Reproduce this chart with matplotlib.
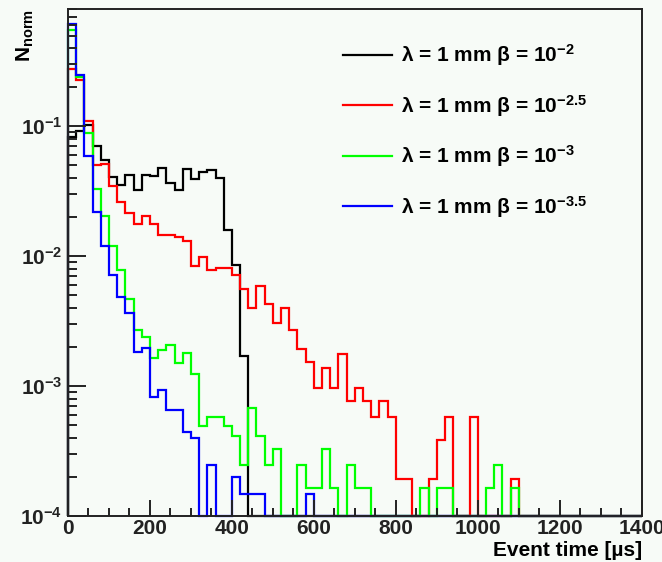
import numpy as np
import matplotlib.pyplot as plt
from matplotlib.ticker import MultipleLocator, LogLocator

plt.rcParams['font.family'] = ['Liberation Sans', 'DejaVu Sans']
plt.rcParams['font.weight'] = 'bold'
plt.rcParams['axes.labelweight'] = 'bold'
plt.rcParams['mathtext.fontset'] = 'custom'
plt.rcParams['mathtext.rm'] = 'Liberation Sans:bold'
plt.rcParams['mathtext.bf'] = 'Liberation Sans:bold'
plt.rcParams['mathtext.it'] = 'Liberation Sans:bold'

# 20 us bins from 0 to 1400 us; values listed up to 1100 us, empty beyond
bin_width = 20
n_bins = 70
edges = np.arange(n_bins + 1) * bin_width

beta_1e2 = [0.083, 0.092, 0.102, 0.0702, 0.0548, 0.0407, 0.0356, 0.0420, 0.0326, 0.0425,
            0.0412, 0.0481, 0.0366, 0.0326, 0.0473, 0.0396, 0.0445, 0.0464, 0.0403, 0.01585,
            0.00863, 0.00171]

beta_1e25 = [0.278, 0.226, 0.109, 0.0508, 0.0516, 0.0345, 0.0262, 0.0216, 0.0177, 0.0203,
             0.0177, 0.01463, 0.0145, 0.01407, 0.01304, 0.00838, 0.00988, 0.0078, 0.00809, 0.00809,
             0.00714, 0.00555, 0.0040, 0.00588, 0.00425, 0.00308, 0.0040, 0.00272, 0.00192, 0.00152,
             0.00096, 0.00137, 0.00096, 0.00176, 0.00077, 0.00096, 0.00077, 0.00058, 0.00077, 0.00058,
             0.000194, 0.000194, 0, 0, 0.000194, 0.000384, 0.00058, 0, 0, 0.00058,
             0, 0, 0, 0, 0.000194]

beta_1e3 = [0.555, 0.24, 0.0895, 0.0332, 0.0203, 0.0120, 0.0078, 0.00471, 0.0027, 0.00238,
            0.00165, 0.00191, 0.00207, 0.00150, 0.0018, 0.00124, 0.000494, 0.00058, 0.00058, 0.000494,
            0.00041, 0.000248, 0.000674, 0.00041, 0.000248, 0.000326, 0, 0, 0.000248, 0.000163,
            0.000163, 0.000326, 0.000163, 0, 0.000248, 0.000163, 0.000163, 0, 0, 0,
            0, 0, 0, 0.000163, 0, 0.000163, 0.000163, 0, 0, 0,
            0, 0.000163, 0.000248, 0, 0.000163]

beta_1e35 = [0.617, 0.249, 0.0596, 0.0220, 0.0120, 0.00723, 0.00488, 0.00367, 0.00184, 0.00195,
             0.000828, 0.000931, 0.000649, 0.000649, 0.000443, 0.000400, 0, 0.000248, 0, 0,
             0.000200, 0.000148, 0.000148, 0.000148, 0, 0, 0, 0, 0, 0.000148]

series = [beta_1e2, beta_1e25, beta_1e3, beta_1e35]
colors = ['black', '#ff0000', '#00ff00', '#0000ff']
labels = [r'λ = 1 mm β = 10$^{-2}$',
          r'λ = 1 mm β = 10$^{-2.5}$',
          r'λ = 1 mm β = 10$^{-3}$',
          r'λ = 1 mm β = 10$^{-3.5}$']

ymin, ymax = 1e-4, 0.8
bg = '#f7fbf7'
fs = 15

fig = plt.figure(figsize=(6.62, 5.62), dpi=100, facecolor=bg)
ax = fig.add_axes([0.1027, 0.0819, 0.8666, 0.902])
ax.set_facecolor(bg)

for vals, c, lab in zip(series, colors, labels):
    h = np.zeros(n_bins)
    h[:len(vals)] = vals
    # empty bins sit on the bottom of the frame, like ROOT draws them
    h = np.maximum(h, ymin)
    ax.stairs(h, edges, baseline=ymin, color=c, lw=1.6, label=lab, clip_on=False)

ax.set_yscale('log')
ax.set_xlim(0, 1400)
ax.set_ylim(ymin, ymax)

ax.xaxis.set_major_locator(MultipleLocator(200))
ax.xaxis.set_minor_locator(MultipleLocator(50))
ax.yaxis.set_major_locator(LogLocator(base=10))
ax.yaxis.set_minor_locator(LogLocator(base=10, subs=np.arange(2, 10)))

ax.tick_params(axis='both', which='both', direction='in', top=False, right=False,
               width=1.4, labelsize=fs, colors='#222222')
ax.tick_params(axis='x', which='major', length=11.5, pad=2)
ax.tick_params(axis='x', which='minor', length=5.8)
ax.tick_params(axis='y', which='major', length=13, pad=4)
ax.tick_params(axis='y', which='minor', length=6.5)
for sp in ax.spines.values():
    sp.set_linewidth(1.4)
    sp.set_color('#222222')

ax.set_xlabel('Event time [µs]', fontsize=fs, loc='right', labelpad=2)
ax.set_ylabel(r'N$_{\mathregular{norm}}$', fontsize=fs, loc='top')
ax.yaxis.set_label_coords(-0.056, 1.0)

ax.legend(loc='upper left', bbox_to_anchor=(0.479, 0.934), frameon=False,
          fontsize=fs, handlelength=2.35, handletextpad=0.43, labelspacing=1.18,
          borderpad=0, borderaxespad=0)

fig.savefig('out.png', dpi=100, facecolor=bg)
